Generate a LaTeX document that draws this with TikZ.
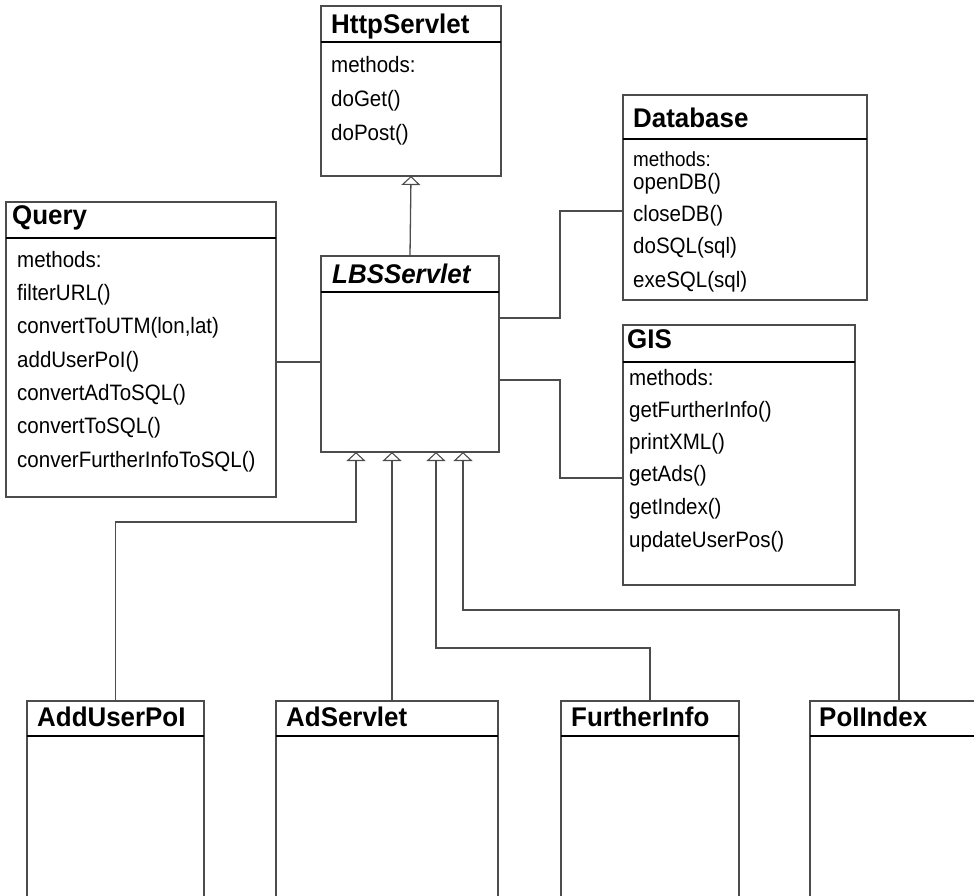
\documentclass[tikz,border=0pt]{standalone}
\usepackage{fontspec}
\setmainfont{Liberation Sans}
\newfontfamily\titlefam{Liberation Sans}[FakeStretch=0.96]
\newfontfamily\methfam{Liberation Sans}[FakeStretch=0.92]
\usetikzlibrary{arrows.meta}

\definecolor{linec}{gray}{0.3}

\newcommand{\titlefont}{\titlefam\fontsize{27}{32}\bfseries\selectfont}
\newcommand{\methfont}{\methfam\fontsize{22.3}{26}\selectfont}
\newcommand{\smallmethfont}{\methfam\fontsize{20.5}{24}\selectfont}

\tikzset{
  umlbox/.style={draw=linec, line width=1.3pt, fill=white, anchor=north west,
                 inner sep=0pt, outer sep=0pt},
  classtitle/.style={font=\titlefont, anchor=base west, inner sep=0pt},
  meth/.style={font=\methfont, anchor=base west, inner sep=0pt},
  link/.style={draw=linec, line width=1.3pt},
  gen/.style={link, -{Triangle[open, width=19pt, length=9pt, line width=1.1pt]}},
}

% draws the compartment line under a class title
\newcommand{\headerline}[2]{%
  \draw[line width=1.3pt, black] ([yshift=-#2pt]#1.north west) -- ([yshift=-#2pt]#1.north east);}

\begin{document}
\begin{tikzpicture}[x=1pt, y=-1pt]
\useasboundingbox (0,0) rectangle (974,895);
\clip (0,0) rectangle (974,895);

% ---------- HttpServlet ----------
\node[umlbox, minimum width=180pt, minimum height=170pt] (http) at (321,6) {};
\headerline{http}{36}
\node[classtitle] (httpT) at (331,33) {HttpServlet};
\node[meth] (http1) at (331,72) {methods:};
\node[meth] (http2) at (331,106) {doGet()};
\node[meth] (http3) at (331,140) {doPost()};

% ---------- Database ----------
\node[umlbox, minimum width=244pt, minimum height=205pt] (db) at (623,95) {};
\headerline{db}{44}
\node[classtitle] (dbT) at (633,127) {Database};
\node[meth, font=\smallmethfont] (db1) at (633,166) {methods:};
\node[meth] (db2) at (633,189) {openDB()};
\node[meth] (db3) at (633,221) {closeDB()};
\node[meth] (db4) at (633,253) {doSQL(sql)};
\node[meth] (db5) at (633,287) {exeSQL(sql)};

% ---------- Query ----------
\node[umlbox, minimum width=270pt, minimum height=295pt] (query) at (6,202) {};
\headerline{query}{36}
\node[classtitle] (queryT) at (12,224) {Query};
\node[meth] (q1) at (17,267) {methods:};
\node[meth] (q2) at (17,300) {filterURL()};
\node[meth] (q3) at (17,333) {convertToUTM(lon,lat)};
\node[meth] (q4) at (17,367) {addUserPoI()};
\node[meth] (q5) at (17,400) {convertAdToSQL()};
\node[meth] (q6) at (17,433) {convertToSQL()};
\node[meth] (q7) at (17,467) {converFurtherInfoToSQL()};

% ---------- LBSServlet ----------
\node[umlbox, minimum width=178pt, minimum height=196pt] (lbs) at (321,256) {};
\headerline{lbs}{36}
\node[classtitle, font=\titlefont\itshape] (lbsT) at (332,283) {LBSServlet};

% ---------- GIS ----------
\node[umlbox, minimum width=232pt, minimum height=260pt] (gis) at (623,325) {};
\headerline{gis}{37}
\node[classtitle] (gisT) at (627,348) {GIS};
\node[meth] (g1) at (629,385) {methods:};
\node[meth] (g2) at (629,417) {getFurtherInfo()};
\node[meth] (g3) at (629,449) {printXML()};
\node[meth] (g4) at (629,481) {getAds()};
\node[meth] (g5) at (629,514) {getIndex()};
\node[meth] (g6) at (629,547) {updateUserPos()};

% ---------- subclasses ----------
\node[umlbox, minimum width=177pt, minimum height=220pt] (adduser) at (27,701) {};
\headerline{adduser}{35}
\node[classtitle] (adduserT) at (37,726) {AddUserPoI};

\node[umlbox, minimum width=222pt, minimum height=220pt] (adserv) at (276,701) {};
\headerline{adserv}{35}
\node[classtitle] (adservT) at (286,726) {AdServlet};

\node[umlbox, minimum width=178pt, minimum height=220pt] (further) at (561,701) {};
\headerline{further}{35}
\node[classtitle] (furtherT) at (571,726) {FurtherInfo};

\node[umlbox, minimum width=178pt, minimum height=220pt] (polindex) at (810,701) {};
\headerline{polindex}{35}
\node[classtitle] (polindexT) at (819,726) {PoIIndex};

% ---------- associations ----------
\coordinate (qa) at ([yshift=-8pt]lbs.west);
\draw[link] (qa) -- (query.east |- qa);
\draw[link] ([yshift=36pt]lbs.east) -- ++(61,0) |- ([yshift=-13.5pt]db.west);
\draw[link] ([yshift=-26pt]lbs.east) -- ++(61,0) |- ([yshift=-23pt]gis.west);

% ---------- generalizations ----------
\draw[gen] (lbs.north) -- (http.south);
\draw[gen] (adduser.north) -- ++(0,-179) -| ([xshift=-54pt]lbs.south);
\draw[gen] ([xshift=5pt]adserv.north) -- ([xshift=-18pt]lbs.south);
\draw[gen] (further.north) -- ++(0,-53) -| ([xshift=26pt]lbs.south);
\draw[gen] (polindex.north) -- ++(0,-91) -| ([xshift=53pt]lbs.south);
\end{tikzpicture}
\end{document}
